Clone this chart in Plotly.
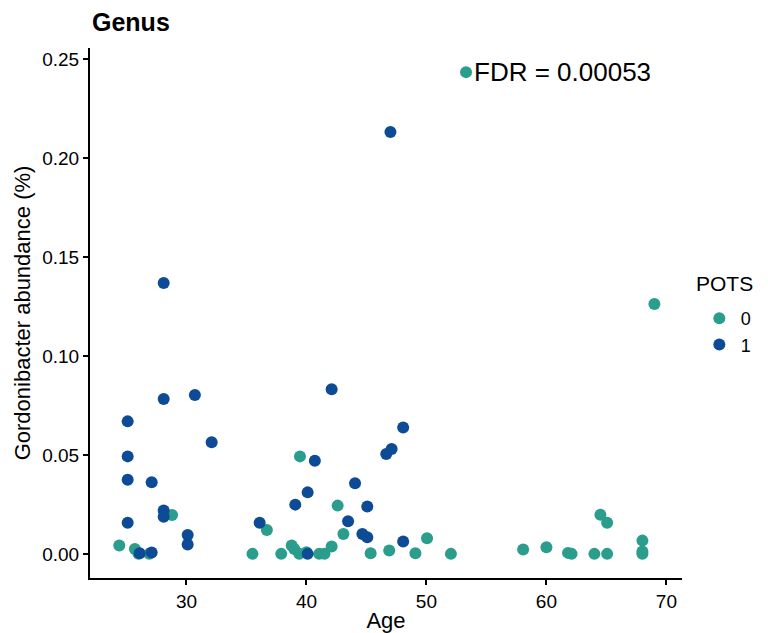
import plotly.graph_objects as go

# Age and Gordonibacter abundance (%) per subject, split by POTS status
age_pots0 = [24.4, 25.7, 26.0, 26.9, 28.8, 35.5, 36.7, 37.9, 38.77, 38.99, 39.4, 40.0,
             39.46, 41.06, 41.5, 42.1, 42.6, 43.08, 45.35, 46.9, 49.08, 50.05, 52.04,
             58.06, 60.0, 61.8, 62.1, 64.0, 65.06, 64.5, 65.06, 68.0, 68.0, 68.0, 69.0]
abund_pots0 = [0.0042, 0.0025, 0.0, 0.0, 0.0197, 0.0, 0.0121, 0.0, 0.0042, 0.0025, 0.0, 0.0008,
               0.0493, 0.0, 0.0, 0.0037, 0.0244, 0.0101, 0.0003, 0.0017, 0.0003, 0.0079, 0.0,
               0.0022, 0.0033, 0.0005, 0.0, 0.0, 0.0, 0.0198, 0.0157, 0.0067, 0.0012, 0.0, 0.1264]

age_pots1 = [25.1, 25.1, 25.1, 25.1, 26.1, 27.1, 27.1, 28.1, 28.1, 28.1, 28.1, 30.1, 30.1,
             30.7, 32.1, 36.1, 39.07, 40.1, 40.1, 40.7, 42.1, 43.47, 44.05, 44.66, 45.07,
             45.07, 46.65, 47.1, 47.0, 48.06, 48.06]
abund_pots1 = [0.067, 0.0493, 0.0375, 0.0157, 0.0003, 0.0007, 0.0362, 0.0783, 0.137, 0.0219,
               0.0188, 0.0096, 0.0047, 0.0803, 0.0564, 0.0157, 0.0249, 0.0311, 0.0, 0.0471,
               0.0833, 0.0165, 0.0357, 0.0101, 0.0239, 0.0084, 0.0505, 0.053, 0.2133, 0.0639,
               0.0062]

# FDR label anchor (age, abundance)
fdr_label = "FDR = 0.00053"
fdr_age = [53.3]
fdr_abund = [0.2436]

x_ticks = [30, 40, 50, 60, 70]
y_ticks = [0.00, 0.05, 0.10, 0.15, 0.20, 0.25]

TEAL = "#2a9d8c"
BLUE = "#0d4b96"
FONT = "Liberation Sans, Arial, sans-serif"

fig = go.Figure()
fig.add_trace(go.Scatter(x=age_pots0, y=abund_pots0, mode="markers", name="0",
                         marker=dict(color=TEAL, size=12)))
fig.add_trace(go.Scatter(x=age_pots1, y=abund_pots1, mode="markers", name="1",
                         marker=dict(color=BLUE, size=12)))
fig.add_trace(go.Scatter(x=fdr_age, y=fdr_abund, mode="markers", showlegend=False,
                         marker=dict(color=TEAL, size=12), hoverinfo="skip"))
fig.add_annotation(x=fdr_age[0], y=fdr_abund[0], text=fdr_label, showarrow=False,
                   xanchor="left", yanchor="middle", xshift=6,
                   font=dict(size=26, color="black", family=FONT))

# legend heading, placed above the legend entries
fig.add_annotation(x=1.02, y=0.5566, xref="paper", yref="paper", text="POTS",
                   showarrow=False, xanchor="left", yanchor="middle",
                   font=dict(size=21, color="black", family=FONT))

fig.update_layout(
    width=768, height=633,
    margin=dict(l=90, r=85, t=48, b=55),
    plot_bgcolor="white", paper_bgcolor="white",
    font=dict(family=FONT, color="black"),
    title=dict(text="<b>Genus</b>", x=92/768, xref="container", xanchor="left",
               y=1 - 22/633, yref="container", yanchor="middle",
               font=dict(size=25, color="black", family=FONT)),
    legend=dict(font=dict(size=18), x=1.025, xanchor="left", y=0.5245, yanchor="top",
                itemsizing="constant", itemwidth=33, tracegroupgap=0),
    showlegend=True,
)
fig.update_xaxes(range=[21.96, 71.3], tickvals=x_ticks, ticks="outside", ticklen=5,
                 tickwidth=1.5, tickcolor="black", showline=True, linecolor="black",
                 linewidth=2, showgrid=False, zeroline=False, automargin=False,
                 tickfont=dict(size=19, color="black"),
                 title=dict(text="Age", font=dict(size=22)))
fig.update_yaxes(range=[-0.0122, 0.2558], tickvals=y_ticks, tickformat=".2f",
                 ticks="outside", ticklen=5, tickwidth=1.5, tickcolor="black",
                 showline=True, linecolor="black", linewidth=2, showgrid=False,
                 zeroline=False, automargin=True, tickfont=dict(size=19, color="black"),
                 title=dict(text="Gordonibacter abundance (%)", font=dict(size=22), standoff=6))

fig.write_html("out.html")
